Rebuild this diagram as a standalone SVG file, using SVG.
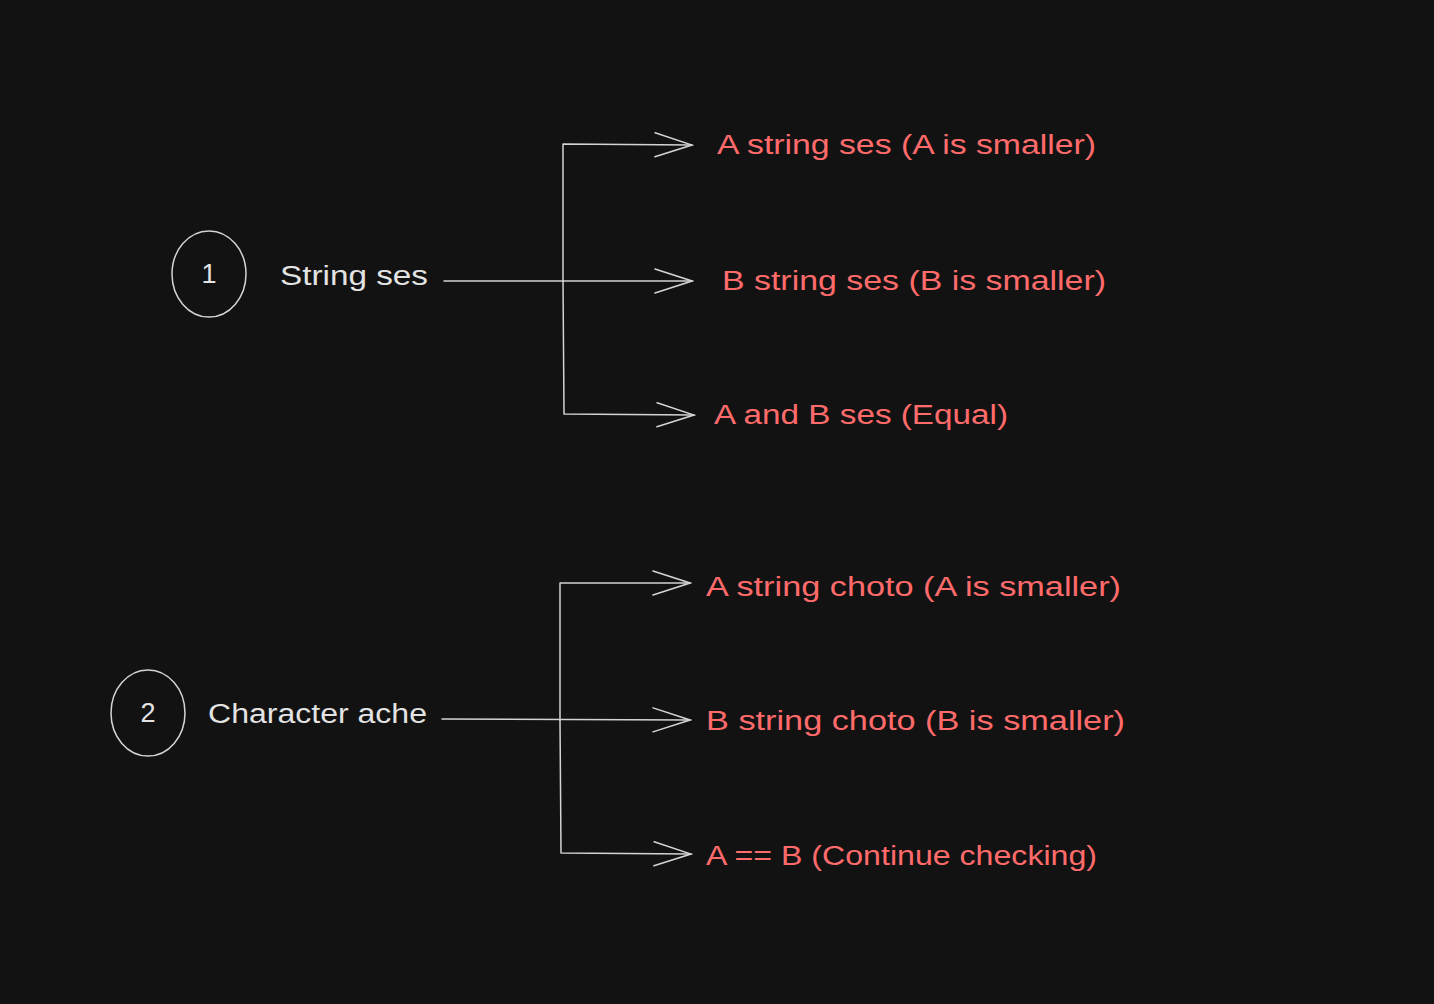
<svg xmlns="http://www.w3.org/2000/svg" width="1434" height="1004" viewBox="0 0 1434 1004">
<style>
.bg{fill:#121212}
.ln{fill:none;stroke:#d4d4d4;stroke-width:1.5;stroke-linecap:round;stroke-linejoin:round}
.w{fill:#e3e3e3;font-family:"Liberation Sans",Arial,sans-serif;font-size:27px}
.r{fill:#ff6b6b;font-family:"Liberation Sans",Arial,sans-serif;font-size:27px}
.n{text-anchor:middle}
</style>
<defs>
<marker id="ah" markerWidth="40" markerHeight="30" viewBox="-38 -14 40 28" refX="0" refY="0" orient="auto" markerUnits="userSpaceOnUse">
<path d="M-37,-12 L0,0 L-37,12" fill="none" stroke="#d4d4d4" stroke-width="1.5" stroke-linecap="round"/>
</marker>
</defs>
<rect class="bg" x="0" y="0" width="1434" height="1004"/>
<g id="connectors">
<path class="ln" d="M444,281 L692,281" marker-end="url(#ah)"/>
<path class="ln" d="M563,281 L563,144 L692,145" marker-end="url(#ah)"/>
<path class="ln" d="M563,281 L564,414 L694,415" marker-end="url(#ah)"/>
<path class="ln" d="M442,719 L690,720" marker-end="url(#ah)"/>
<path class="ln" d="M560,720 L560,583 L690,583" marker-end="url(#ah)"/>
<path class="ln" d="M560,720 L561,853 L691,854" marker-end="url(#ah)"/>
</g>
<g id="node-1">
<ellipse class="ln" cx="209" cy="274" rx="37" ry="43"/>
<text class="w n" x="209" y="283">1</text>
</g>
<g id="node-string-ses">
<text class="w" x="280" y="285" textLength="148" lengthAdjust="spacingAndGlyphs">String ses</text>
</g>
<g id="node-a-smaller-1">
<text class="r" x="717" y="154" textLength="379" lengthAdjust="spacingAndGlyphs">A string ses (A is smaller)</text>
</g>
<g id="node-b-smaller-1">
<text class="r" x="722" y="290" textLength="384" lengthAdjust="spacingAndGlyphs">B string ses (B is smaller)</text>
</g>
<g id="node-equal">
<text class="r" x="714" y="424" textLength="294" lengthAdjust="spacingAndGlyphs">A and B ses (Equal)</text>
</g>
<g id="node-2">
<ellipse class="ln" cx="148" cy="713" rx="37" ry="43"/>
<text class="w n" x="148" y="722">2</text>
</g>
<g id="node-character-ache">
<text class="w" x="208" y="723" textLength="219" lengthAdjust="spacingAndGlyphs">Character ache</text>
</g>
<g id="node-a-smaller-2">
<text class="r" x="706" y="596" textLength="415" lengthAdjust="spacingAndGlyphs">A string choto (A is smaller)</text>
</g>
<g id="node-b-smaller-2">
<text class="r" x="706" y="730" textLength="419" lengthAdjust="spacingAndGlyphs">B string choto (B is smaller)</text>
</g>
<g id="node-continue">
<text class="r" x="706" y="865" textLength="391" lengthAdjust="spacingAndGlyphs">A == B (Continue checking)</text>
</g>
</svg>
